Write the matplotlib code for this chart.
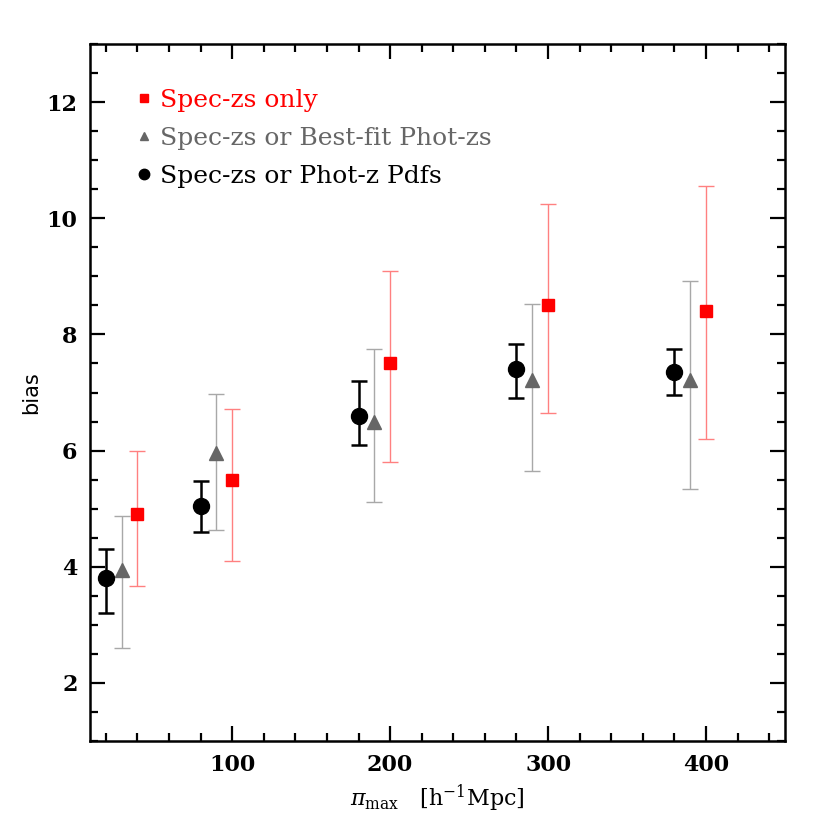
import numpy as np
import matplotlib.pyplot as plt
from matplotlib.lines import Line2D
from matplotlib.ticker import MultipleLocator

# Spec-zs or Phot-z Pdfs
x_pdf = [20, 80, 180, 280, 380]
b_pdf = [3.80, 5.05, 6.60, 7.40, 7.35]
lo_pdf = [3.20, 4.60, 6.10, 6.90, 6.95]
hi_pdf = [4.30, 5.47, 7.20, 7.84, 7.75]

# Spec-zs or Best-fit Phot-zs
x_best = [30, 90, 190, 290, 390]
b_best = [3.95, 5.95, 6.50, 7.22, 7.22]
lo_best = [2.60, 4.63, 5.12, 5.64, 5.34]
hi_best = [4.88, 6.97, 7.75, 8.52, 8.92]

# Spec-zs only
x_spec = [40, 100, 200, 300, 400]
b_spec = [4.90, 5.50, 7.50, 8.50, 8.40]
lo_spec = [3.67, 4.10, 5.80, 6.65, 6.20]
hi_spec = [6.00, 6.72, 9.10, 10.25, 10.56]

plt.rcParams['font.family'] = 'DejaVu Serif'
plt.rcParams['mathtext.fontset'] = 'dejavuserif'

fig = plt.figure(figsize=(8.3, 8.3), dpi=100)
ax = fig.add_axes([90/830, 1 - 741/830, 695/830, 697/830])


def yerr(b, lo, hi):
    b = np.array(b)
    return [b - np.array(lo), np.array(hi) - b]


ax.errorbar(x_spec, b_spec, yerr=yerr(b_spec, lo_spec, hi_spec), fmt='none',
            ecolor='#ff8080', elinewidth=1.0, capsize=5.5, capthick=1.0, zorder=2)
ax.plot(x_spec, b_spec, 's', color='red', ms=8.5, zorder=3)

ax.errorbar(x_best, b_best, yerr=yerr(b_best, lo_best, hi_best), fmt='none',
            ecolor='#a8a8a8', elinewidth=1.0, capsize=5.5, capthick=1.0, zorder=2)
ax.plot(x_best, b_best, '^', color='#666666', ms=9.5, zorder=3)

ax.errorbar(x_pdf, b_pdf, yerr=yerr(b_pdf, lo_pdf, hi_pdf), fmt='none',
            ecolor='black', elinewidth=1.8, capsize=6, capthick=1.8, zorder=2)
ax.plot(x_pdf, b_pdf, 'o', color='black', ms=11.5, zorder=3)

ax.set_xlim(10, 450)
ax.set_ylim(1, 13)
ax.xaxis.set_major_locator(MultipleLocator(100))
ax.xaxis.set_minor_locator(MultipleLocator(20))
ax.yaxis.set_major_locator(MultipleLocator(2))
ax.yaxis.set_minor_locator(MultipleLocator(0.5))
ax.tick_params(which='both', direction='in', top=True, right=True, width=1.6,
               labelsize=16, pad=9)
ax.tick_params(which='major', length=11)
ax.tick_params(which='minor', length=6)
for lab in ax.get_xticklabels() + ax.get_yticklabels():
    lab.set_fontweight('semibold')
for s in ax.spines.values():
    s.set_linewidth(1.8)

ax.set_xlabel(r'$\pi_{\rm max}$   [h$^{-1}$Mpc]', fontsize=16, labelpad=5)
ax.set_ylabel('bias', fontsize=15, family='DejaVu Sans', labelpad=4)

handles = [
    Line2D([], [], ls='none', marker='s', color='red', ms=5.5),
    Line2D([], [], ls='none', marker='^', color='#666666', ms=5.5),
    Line2D([], [], ls='none', marker='o', color='black', ms=7.5),
]
labels = ['Spec-zs only', 'Spec-zs or Best-fit Phot-zs', 'Spec-zs or Phot-z Pdfs']
leg = ax.legend(handles, labels, loc='upper left', frameon=False, fontsize=18,
                handlelength=0.6, handletextpad=0.35, labelspacing=0.6,
                bbox_to_anchor=(0.052, 0.95), borderaxespad=0)
for t, c in zip(leg.get_texts(), ['red', '#666666', 'black']):
    t.set_color(c)

fig.savefig('out.png', dpi=100)
